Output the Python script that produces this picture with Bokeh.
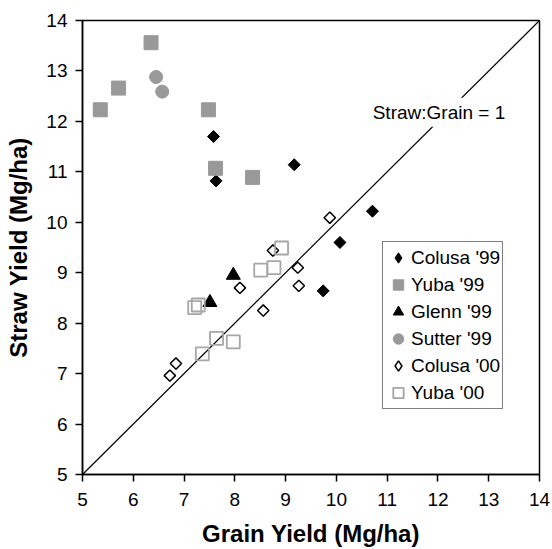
import math

from bokeh.embed import file_html
from bokeh.models import ColumnDataSource, Label, Legend, LegendItem
from bokeh.plotting import figure
from bokeh.resources import INLINE

# Grain (x) and straw (y) yields, Mg/ha, by site and year
colusa99_grain = [7.58, 7.63, 9.17, 10.07, 9.74, 10.71]
colusa99_straw = [11.70, 10.82, 11.14, 9.60, 8.64, 10.22]

yuba99_grain = [5.35, 5.71, 6.35, 7.48, 7.62, 8.35]
yuba99_straw = [12.23, 12.66, 13.56, 12.23, 11.07, 10.89]

glenn99_grain = [7.51, 7.97]
glenn99_straw = [8.41, 8.95]

sutter99_grain = [6.45, 6.57]
sutter99_straw = [12.88, 12.59]

colusa00_grain = [6.72, 6.84, 8.10, 8.56, 8.75, 9.24, 9.26, 9.87]
colusa00_straw = [6.96, 7.20, 8.70, 8.25, 9.44, 9.10, 8.74, 10.09]

yuba00_grain = [7.21, 7.28, 7.36, 7.64, 7.97, 8.51, 8.77, 8.92]
yuba00_straw = [8.31, 8.36, 7.39, 7.70, 7.63, 9.05, 9.10, 9.49]

axis_limits = [5, 14]
axis_ticks = list(range(5, 15))

FONT = "Liberation Sans"
GRAY = "#999999"

p = figure(
    width=552, height=549,
    x_range=(axis_limits[0], axis_limits[1]),
    y_range=(axis_limits[0], axis_limits[1]),
    output_backend="svg", toolbar_location=None,
    min_border_left=82, min_border_right=13,
    min_border_top=20, min_border_bottom=75,
    background_fill_color="white", border_fill_color="white",
)
p.grid.visible = False
p.outline_line_color = "black"
p.outline_line_width = 1.5

for ax in (p.xaxis[0], p.yaxis[0]):
    ax.ticker = axis_ticks
    ax.axis_line_width = 1.5
    ax.axis_line_color = "black"
    ax.major_tick_line_width = 1.5
    ax.major_tick_out = 7
    ax.major_tick_in = 0
    ax.minor_tick_out = 0
    ax.minor_tick_in = 0
    ax.major_label_text_font = FONT
    ax.major_label_text_font_size = "19px"
    ax.major_label_text_color = "black"
    ax.axis_label_text_font = FONT
    ax.axis_label_text_font_size = "24px"
    ax.axis_label_text_font_style = "bold"
    ax.axis_label_text_color = "black"

p.xaxis.axis_label = "Grain Yield (Mg/ha)"
p.yaxis.axis_label = "Straw Yield (Mg/ha)"
p.xaxis.major_label_standoff = 11
p.yaxis.major_label_standoff = 8
p.xaxis.axis_label_standoff = 11
p.yaxis.axis_label_standoff = 11

# 1:1 reference line across the axis range
p.line(axis_limits, axis_limits, line_color="black", line_width=1.2)
p.add_layout(Label(
    x=12.02, y=12.18, text="Straw:Grain = 1",
    text_font=FONT, text_font_size="19px", text_color="black",
    text_align="center", text_baseline="middle",
    background_fill_color="white", padding=4,
))

diamond_angle = math.pi / 4

r_c99 = p.scatter(colusa99_grain, colusa99_straw, marker="square", angle=diamond_angle,
                  size=8.5, fill_color="black", line_color="black", line_width=1)
r_y99 = p.scatter(yuba99_grain, yuba99_straw, marker="square",
                  size=14, fill_color=GRAY, line_color=GRAY)
r_g99 = p.scatter(glenn99_grain, glenn99_straw, marker="triangle",
                  size=14, fill_color="black", line_color="black")
r_s99 = p.scatter(sutter99_grain, sutter99_straw, marker="circle",
                  size=13, fill_color=GRAY, line_color=GRAY)
r_c00 = p.scatter(colusa00_grain, colusa00_straw, marker="square", angle=diamond_angle,
                  size=8, fill_color="white", line_color="black", line_width=1.5)
r_y00 = p.scatter(yuba00_grain, yuba00_straw, marker="square",
                  size=13, fill_color="white", fill_alpha=0, line_color="#a6a6a6", line_width=1.8)

# key swatches for the diamond series (a single NaN point, so nothing shows in the plot)
nan = float("nan")
k_c99 = p.scatter("x", "y", source=ColumnDataSource(data=dict(x=[nan], y=[nan])),
                  marker="diamond", fill_color="black", line_color="black")
k_c00 = p.scatter("x", "y", source=ColumnDataSource(data=dict(x=[nan], y=[nan])),
                  marker="diamond", fill_color="white", line_color="black", line_width=1.5)

legend = Legend(
    items=[
        LegendItem(label="Colusa '99", renderers=[k_c99]),
        LegendItem(label="Yuba '99", renderers=[r_y99]),
        LegendItem(label="Glenn '99", renderers=[r_g99]),
        LegendItem(label="Sutter '99", renderers=[r_s99]),
        LegendItem(label="Colusa '00", renderers=[k_c00]),
        LegendItem(label="Yuba '00", renderers=[r_y00]),
    ],
    location=(300, 65),
    orientation="vertical",
    border_line_color="black", border_line_width=1,
    background_fill_color="white", background_fill_alpha=1,
    label_text_font=FONT, label_text_font_size="19px", label_text_color="black",
    glyph_width=26, glyph_height=27, label_height=27,
    spacing=0, padding=2, margin=0, label_standoff=0,
)
p.add_layout(legend)

open("out.html", "w").write(file_html(p, INLINE))
